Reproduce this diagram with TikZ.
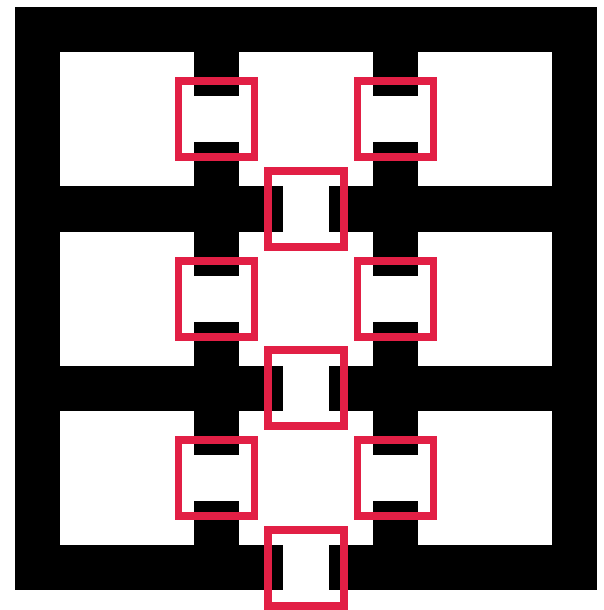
\documentclass[tikz,border=0pt]{standalone}
\usepackage{tikz}
\usepackage{xcolor}
\definecolor{GateRed}{HTML}{E21F45}

\begin{document}
\begin{tikzpicture}[x=0.02cm, y=-0.02cm]
  \useasboundingbox (0,0) rectangle (604,610);

  % Black frame and bars
  \fill[black] (15,7) rectangle (597,590);

  % 3x3 white cells
  \foreach \i in {0,1,2} {
    \foreach \j in {0,1,2} {
      \fill[white] ({60+\i*179}, {52+\j*179.5}) rectangle ({194+\i*179}, {186+\j*179.5});
    }
  }

  % Openings in the bars, marked by red boxes
  \foreach \j in {0,1,2} {
    \foreach \cx/\cy in {216.5/119, 395.5/119, 306/208.5} {
      \pgfmathsetmacro{\ypos}{\cy+\j*179.5}
      \fill[white] ({\cx-23}, {\ypos-23}) rectangle ({\cx+23}, {\ypos+23});
      \draw[GateRed, line width=0.16cm] ({\cx-38}, {\ypos-38}) rectangle ({\cx+38}, {\ypos+38});
    }
  }
\end{tikzpicture}
\end{document}
